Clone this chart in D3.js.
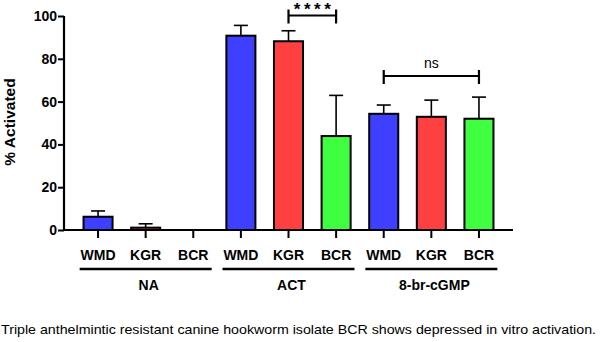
<!DOCTYPE html>
<html><head><meta charset="utf-8">
<script src="https://cdn.jsdelivr.net/npm/d3@7"></script>
<style>body{margin:0;background:#fff}svg{display:block}</style>
</head><body><svg id="c" width="600" height="342"></svg>
<script>
const groups = ["NA", "ACT", "8-br-cGMP"];
const isolates = ["WMD", "KGR", "BCR"];
const means = [6.2, 1.1, 0, 90.8, 88.2, 43.9, 54.3, 52.9, 52.0];
const errors = [2.7, 1.8, 0, 4.8, 4.9, 19.0, 4.1, 7.8, 10.1];
const yTicks = [0, 20, 40, 60, 80, 100];
const colors = ["#3f3fff", "#ff4040", "#40ff40"];
const caption = "Triple anthelmintic resistant canine hookworm isolate BCR shows depressed in vitro activation.";

const svg = d3.select("#c");
const F = "Liberation Sans, Arial, sans-serif";
const keys = [];
groups.forEach((g,gi)=>isolates.forEach((s,si)=>keys.push(g+"|"+s)));
const x = d3.scaleBand().domain(keys).range([64, 513]).paddingInner(0.39).paddingOuter(0.41);
const y = d3.scaleLinear().domain([0, 100]).range([230, 16]);
const bw = x.bandwidth();

// bars
const g = svg.append("g");
keys.forEach((k,i)=>{
  const v = means[i], e = errors[i];
  const cx = x(k) + bw/2;
  if (v > 0) {
    g.append("rect").attr("x", x(k)).attr("y", y(v)).attr("width", bw).attr("height", y(0)-y(v))
      .attr("fill", colors[i%3]).attr("stroke", "#000").attr("stroke-width", 2);
  }
  if (e > 0) {
    g.append("line").attr("x1", cx).attr("x2", cx).attr("y1", y(v)).attr("y2", y(v+e)).attr("stroke","#000").attr("stroke-width",1.6);
    g.append("line").attr("x1", cx-7).attr("x2", cx+7).attr("y1", y(v+e)).attr("y2", y(v+e)).attr("stroke","#000").attr("stroke-width",1.6);
  }
});

// y axis
const ya = svg.append("g").attr("transform","translate(64,0)")
  .call(d3.axisLeft(y).tickValues(yTicks).tickSize(6).tickPadding(1));
ya.select(".domain").attr("stroke-width",2.2).attr("d","M0,"+(y(100))+"V"+(y(0)+1));
ya.selectAll(".tick line").attr("stroke-width",2);
ya.selectAll("text").attr("font-family",F).attr("font-weight","bold").attr("font-size",14).attr("fill","#000");

// x axis
const xa = svg.append("g").attr("transform","translate(0,230)")
  .call(d3.axisBottom(x).tickSize(8).tickFormat(d=>d.split("|")[1]).tickPadding(12));
xa.select(".domain").attr("stroke-width",2.2).attr("d","M64,0H513");
xa.selectAll(".tick line").attr("stroke-width",2);
xa.selectAll("text").attr("font-family",F).attr("font-weight","bold").attr("font-size",14).attr("fill","#000");

// group lines and labels
groups.forEach((gname,gi)=>{
  const k0 = keys[gi*3], k2 = keys[gi*3+2];
  const c = (x(k0)+x(k2)+bw)/2;
  svg.append("line").attr("x1", c-66).attr("x2", c+66).attr("y1",269).attr("y2",269).attr("stroke","#000").attr("stroke-width",2.5);
  svg.append("text").attr("x", c+3).attr("y", 290).attr("text-anchor","middle")
    .attr("font-family",F).attr("font-weight","bold").attr("font-size",14).text(gname);
});

// y title
svg.append("text").attr("transform","translate(15,122) rotate(-90)").attr("text-anchor","middle")
  .attr("font-family",F).attr("font-weight","bold").attr("font-size",15.5).text("% Activated");

// significance brackets
function bracket(k1,k2,yy,label,bold,ty){
  const x1 = x(k1)+bw/2, x2 = x(k2)+bw/2;
  svg.append("path").attr("d",`M${x1},${yy-6}V${yy+8}M${x1},${yy}H${x2}M${x2},${yy-6}V${yy+8}`)
    .attr("fill","none").attr("stroke","#000").attr("stroke-width",2.2);
  const t = svg.append("text").attr("x",(x1+x2)/2).attr("y",ty).attr("text-anchor","middle")
    .attr("font-family",F).attr("font-weight",bold?"bold":"normal").attr("font-size",bold?17:14).text(label);
  if (bold) t.attr("letter-spacing", 3.5).attr("dx", 1.75);
}
bracket(keys[4], keys[5], y(100)-0.5, "****", true, 15);
bracket(keys[6], keys[8], 76, "ns", false, 68);

// caption
svg.append("text").attr("x",1).attr("y",334).attr("font-family",F).attr("font-size",13)
  .attr("textLength",595).attr("lengthAdjust","spacingAndGlyphs").attr("fill","#000").text(caption);
</script></body></html>
